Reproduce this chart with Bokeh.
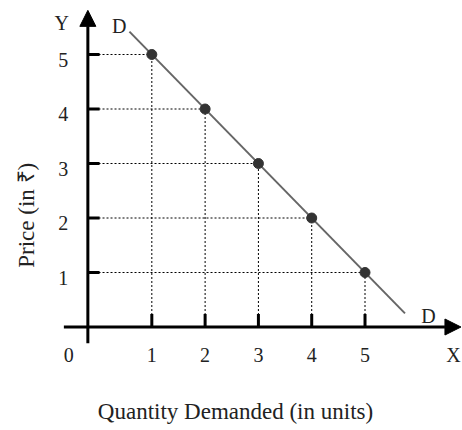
import math
from bokeh.plotting import figure
from bokeh.models import Arrow, NormalHead, Range1d
from bokeh.core.properties import value
from bokeh.embed import file_html
from bokeh.resources import INLINE

# Data: demand schedule
quantity = [1, 2, 3, 4, 5]
price = [5, 4, 3, 2, 1]
# Demand line end points
line_x = [0.58, 5.75]
line_y = [5.42, 0.25]
x_ticks = [1, 2, 3, 4, 5]
y_ticks = [1, 2, 3, 4, 5]
x_tick_labels = ["1", "2", "3", "4", "5"]
y_tick_labels = ["1", "2", "3", "4", "5"]

FONT = value("Liberation Serif")
TXT = "#222222"

p = figure(width=462, height=430, output_backend="svg", toolbar_location=None,
           x_range=Range1d(-1.839, 6.829), y_range=Range1d(-1.899, 5.991),
           min_border=0)
p.axis.visible = False
p.grid.visible = False
p.outline_line_color = None
p.background_fill_color = "white"

# dotted guides
p.segment(x0=[0] * len(quantity), y0=price, x1=quantity, y1=price,
          line_color="black", line_width=1, line_dash="2 2")
p.segment(x0=quantity, y0=[0] * len(quantity), x1=quantity, y1=price,
          line_color="black", line_width=1, line_dash="2 2")

# axes
p.add_layout(Arrow(end=NormalHead(size=16, fill_color="black", line_color="black"),
                   x_start=-0.2, y_start=-0.3, x_end=-0.2, y_end=5.81,
                   line_width=3, line_color="black"))
p.add_layout(Arrow(end=NormalHead(size=16, fill_color="black", line_color="black"),
                   x_start=-0.65, y_start=0, x_end=6.8, y_end=0,
                   line_width=3, line_color="black"))

# ticks
p.segment(x0=x_ticks, y0=[0] * 5, x1=x_ticks, y1=[0.24] * 5, line_color="black", line_width=3)
p.segment(x0=[-0.2] * 5, y0=y_ticks, x1=[0.02] * 5, y1=y_ticks, line_color="black", line_width=3)

# demand line and points
p.line(line_x, line_y, line_color="#666666", line_width=2)
p.scatter(quantity, price, size=10, fill_color="#333333", line_color="#333333")

# tick labels
p.text(x=x_ticks, y=[-0.52] * 5, text=x_tick_labels, text_font=FONT, text_font_size="20px",
       text_align="center", text_baseline="middle", text_color=TXT)
p.text(x=[-0.66] * 5, y=[v - 0.1 for v in y_ticks], text=y_tick_labels, text_font=FONT,
       text_font_size="20px", text_align="center", text_baseline="middle", text_color=TXT)
p.text(x=[-0.56], y=[-0.52], text=["0"], text_font=FONT, text_font_size="20px",
       text_align="center", text_baseline="middle", text_color=TXT)

# axis letters and D labels
p.text(x=[-0.69, 6.66], y=[5.57, -0.52], text=["Y", "X"], text_font=FONT, text_font_size="20px",
       text_align="center", text_baseline="middle", text_color=TXT)
p.text(x=[0.39, 6.19], y=[5.53, 0.21], text=["D", "D"], text_font=FONT, text_font_size="20px",
       text_align="center", text_baseline="middle", text_color=TXT)

# axis titles
p.text(x=[2.57], y=[-1.55], text=["Quantity Demanded (in units)"], text_font=FONT,
       text_font_size="23px", text_align="center", text_baseline="middle", text_color=TXT)
p.text(x=[-1.35], y=[2.05], text=["Price (in ₹)"], text_font=FONT, text_font_size="23px",
       text_align="center", text_baseline="middle", angle=math.pi / 2, text_color=TXT)

open("out.html", "w").write(file_html(p, INLINE))
